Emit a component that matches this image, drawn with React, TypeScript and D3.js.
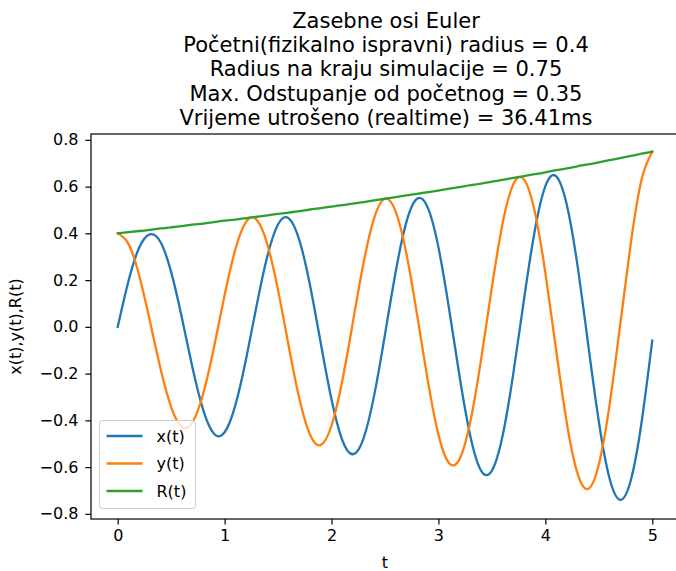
import * as d3 from 'd3';
import { useEffect, useRef } from 'react';

const width = 676;
const height = 571;

const titleLines = [
  'Zasebne osi Euler',
  'Početni(fizikalno ispravni) radius = 0.4',
  'Radius na kraju simulacije = 0.75',
  'Max. Odstupanje od početnog = 0.35',
  'Vrijeme utrošeno (realtime) = 36.41ms',
];

const tValues = [
  0.0, 0.1, 0.2, 0.3, 0.4, 0.5, 0.6, 0.7, 0.8, 0.9,
  1.0, 1.1, 1.2, 1.3, 1.4, 1.5, 1.6, 1.7, 1.8, 1.9,
  2.0, 2.1, 2.2, 2.3, 2.4, 2.5, 2.6, 2.7, 2.8, 2.9,
  3.0, 3.1, 3.2, 3.3, 3.4, 3.5, 3.6, 3.7, 3.8, 3.9,
  4.0, 4.1, 4.2, 4.3, 4.4, 4.5, 4.6, 4.7, 4.8, 4.9,
  5.0,
];

const xValues = [
  0.0, 0.195, 0.338, 0.396, 0.363, 0.234, 0.039, -0.176, -0.356, -0.457,
  -0.451, -0.336, -0.139, 0.093, 0.303, 0.439, 0.464, 0.369, 0.175, -0.072,
  -0.311, -0.484, -0.545, -0.476, -0.29, -0.032, 0.236, 0.448, 0.548, 0.51,
  0.34, 0.075, -0.219, -0.471, -0.616, -0.615, -0.466, -0.2, 0.117, 0.409,
  0.602, 0.645, 0.523, 0.264, -0.073, -0.405, -0.648, -0.74, -0.655, -0.408,
  -0.058,
];

const yValues = [
  0.4, 0.355, 0.221, 0.027, -0.178, -0.343, -0.428, -0.407, -0.285, -0.088,
  0.136, 0.331, 0.449, 0.458, 0.352, 0.156, -0.084, -0.309, -0.463, -0.505,
  -0.422, -0.232, 0.021, 0.275, 0.467, 0.548, 0.493, 0.314, 0.052, -0.229,
  -0.461, -0.583, -0.563, -0.402, -0.136, 0.17, 0.442, 0.61, 0.631, 0.494,
  0.231, -0.097, -0.409, -0.626, -0.693, -0.589, -0.335, 0.01, 0.36, 0.63,
  0.749,
];

const rValues = [
  0.4, 0.405, 0.41, 0.415, 0.421, 0.426, 0.431, 0.437, 0.442, 0.448,
  0.454, 0.459, 0.465, 0.471, 0.477, 0.483, 0.489, 0.495, 0.502, 0.508,
  0.514, 0.521, 0.527, 0.534, 0.541, 0.548, 0.555, 0.562, 0.569, 0.576,
  0.583, 0.591, 0.598, 0.606, 0.613, 0.621, 0.629, 0.637, 0.645, 0.653,
  0.661, 0.67, 0.678, 0.687, 0.695, 0.704, 0.713, 0.722, 0.731, 0.741,
  0.75,
];

const xTicks = [0, 1, 2, 3, 4, 5];
const yTicks = [-0.8, -0.6, -0.4, -0.2, 0.0, 0.2, 0.4, 0.6, 0.8];

const series = [
  { name: 'x(t)', values: xValues, color: '#1f77b4' },
  { name: 'y(t)', values: yValues, color: '#ff7f0e' },
  { name: 'R(t)', values: rValues, color: '#2ca02c' },
];

export default function App() {
  const containerRef = useRef<HTMLDivElement>(null);

  useEffect(() => {
    containerRef.current.innerHTML = '';

    const plot = { left: 91, right: 679, top: 134, bottom: 519 };
    const font = 'DejaVu Sans, sans-serif';

    const svg = d3
      .select(containerRef.current)
      .append('svg')
      .attr('width', width)
      .attr('height', height)
      .style('position', 'absolute')
      .style('left', 0)
      .style('top', 0)
      .style('font-family', font);

    svg.append('rect').attr('width', width).attr('height', height).attr('fill', '#fff');

    const x = d3.scaleLinear().domain([-0.25, 5.25]).range([plot.left, plot.right]);
    const y = d3.scaleLinear().domain([-0.822, 0.825]).range([plot.bottom, plot.top]);

    svg
      .append('defs')
      .append('clipPath')
      .attr('id', 'plot-clip')
      .append('rect')
      .attr('x', plot.left)
      .attr('y', plot.top)
      .attr('width', plot.right - plot.left)
      .attr('height', plot.bottom - plot.top);

    const line = d3
      .line<number>()
      .x((_, i) => x(tValues[i]))
      .y((d) => y(d))
      .curve(d3.curveNatural);

    const gLines = svg.append('g').attr('clip-path', 'url(#plot-clip)');
    series.forEach((s) => {
      gLines
        .append('path')
        .attr('d', line(s.values))
        .attr('fill', 'none')
        .attr('stroke', s.color)
        .attr('stroke-width', 2.3)
        .attr('stroke-linejoin', 'round')
        .attr('stroke-linecap', 'square');
    });

    // frame
    svg
      .append('rect')
      .attr('x', plot.left)
      .attr('y', plot.top)
      .attr('width', plot.right - plot.left)
      .attr('height', plot.bottom - plot.top)
      .attr('fill', 'none')
      .attr('stroke', '#000')
      .attr('stroke-width', 1.2);

    const xAxis = svg
      .append('g')
      .attr('transform', `translate(0,${plot.bottom})`)
      .call(d3.axisBottom(x).tickValues(xTicks).tickSize(5.6).tickPadding(5).tickFormat(d3.format('d')));
    const yAxis = svg
      .append('g')
      .attr('transform', `translate(${plot.left},0)`)
      .call(d3.axisLeft(y).tickValues(yTicks).tickSize(5.6).tickPadding(7).tickFormat(d3.format('.1f')));

    [xAxis, yAxis].forEach((a) => {
      a.select('.domain').remove();
      a.selectAll('line').attr('stroke', '#000').attr('stroke-width', 1.2);
      a.selectAll('text').attr('fill', '#000').style('font-size', '16px').style('font-family', font);
    });

    // title
    const title = svg
      .append('text')
      .attr('text-anchor', 'middle')
      .style('font-size', '21px')
      .attr('fill', '#000');
    titleLines.forEach((ln, i) => {
      title
        .append('tspan')
        .attr('x', (plot.left + plot.right) / 2 + 1)
        .attr('y', 27.5 + i * 24.4)
        .text(ln);
    });

    svg
      .append('text')
      .attr('x', x(2.5))
      .attr('y', 568)
      .attr('text-anchor', 'middle')
      .style('font-size', '16px')
      .text('t');

    svg
      .append('text')
      .attr('transform', `translate(21,${(plot.top + plot.bottom) / 2}) rotate(-90)`)
      .attr('text-anchor', 'middle')
      .style('font-size', '16px')
      .text('x(t),y(t),R(t)');

    // legend
    const legend = svg.append('g').attr('transform', 'translate(99.5,420.5)');
    legend
      .append('rect')
      .attr('width', 96)
      .attr('height', 88)
      .attr('rx', 3)
      .attr('fill', '#fff')
      .attr('fill-opacity', 0.8)
      .attr('stroke', '#cccccc')
      .attr('stroke-width', 1);
    series.forEach((s, i) => {
      const ly = 15.5 + i * 27.5;
      legend
        .append('line')
        .attr('x1', 7)
        .attr('x2', 43)
        .attr('y1', ly)
        .attr('y2', ly)
        .attr('stroke', s.color)
        .attr('stroke-width', 2.3);
      legend
        .append('text')
        .attr('x', 57)
        .attr('y', ly + 5.8)
        .style('font-size', '16px')
        .text(s.name);
    });
  }, []);

  return <div ref={containerRef}></div>;
}
